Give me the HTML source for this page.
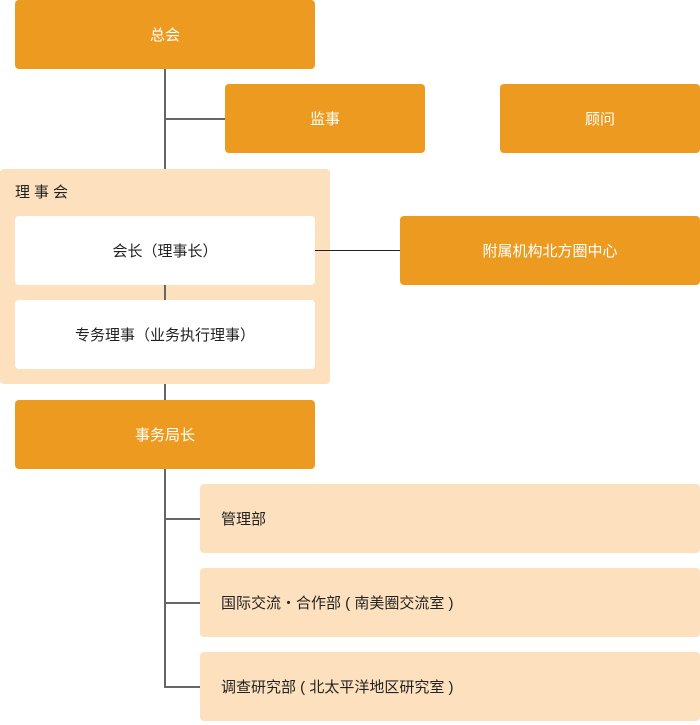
<!DOCTYPE html>
<html><head><meta charset="utf-8"><style>
body{margin:0;width:700px;height:725px;background:#fff;position:relative;overflow:hidden;font-family:"Liberation Sans","Noto Sans CJK SC",sans-serif;font-size:15px;}
div.b{position:absolute;border-radius:4px;display:flex;align-items:center;justify-content:center;box-sizing:border-box}
.o{background:#ec9b20;color:#fff}
.w{background:#fff;color:#222}
.p{background:#fde1bf;color:#222;justify-content:flex-start!important;padding-left:21px}
.l{position:absolute;background:#666}
</style></head><body>
<div class="l" style="left:164px;top:69px;width:2px;height:332px"></div>
<div class="l" style="left:165px;top:118px;width:60px;height:2px"></div>
<div class="b" style="left:0;top:169px;width:330px;height:215px;background:#fde1bf;align-items:flex-start;justify-content:flex-start;padding:12px 0 0 15px;color:#222;letter-spacing:4px">理事会</div>
<div class="l" style="left:164px;top:285px;width:2px;height:15px"></div>
<div class="l" style="left:315px;top:250px;width:85px;height:1px;background:#222"></div>
<div class="l" style="left:164px;top:469px;width:2px;height:219px"></div>
<div class="l" style="left:165px;top:518px;width:35px;height:2px"></div>
<div class="l" style="left:165px;top:602px;width:35px;height:2px"></div>
<div class="l" style="left:165px;top:686px;width:35px;height:2px"></div>
<div class="b o" style="left:15px;top:0;width:300px;height:69px">总会</div>
<div class="b o" style="left:225px;top:84px;width:200px;height:69px">监事</div>
<div class="b o" style="left:500px;top:84px;width:200px;height:69px">顾问</div>
<div class="b w" style="left:15px;top:216px;width:300px;height:69px">会长（理事长）</div>
<div class="b w" style="left:15px;top:300px;width:300px;height:69px">专务理事（业务执行理事）</div>
<div class="b o" style="left:400px;top:216px;width:300px;height:69px">附属机构北方圈中心</div>
<div class="b o" style="left:15px;top:400px;width:300px;height:69px">事务局长</div>
<div class="b p" style="left:200px;top:484px;width:500px;height:69px">管理部</div>
<div class="b p" style="left:200px;top:568px;width:500px;height:69px">国际交流・合作部 ( 南美圈交流室 )</div>
<div class="b p" style="left:200px;top:652px;width:500px;height:69px">调查研究部 ( 北太平洋地区研究室 )</div>
</body></html>
